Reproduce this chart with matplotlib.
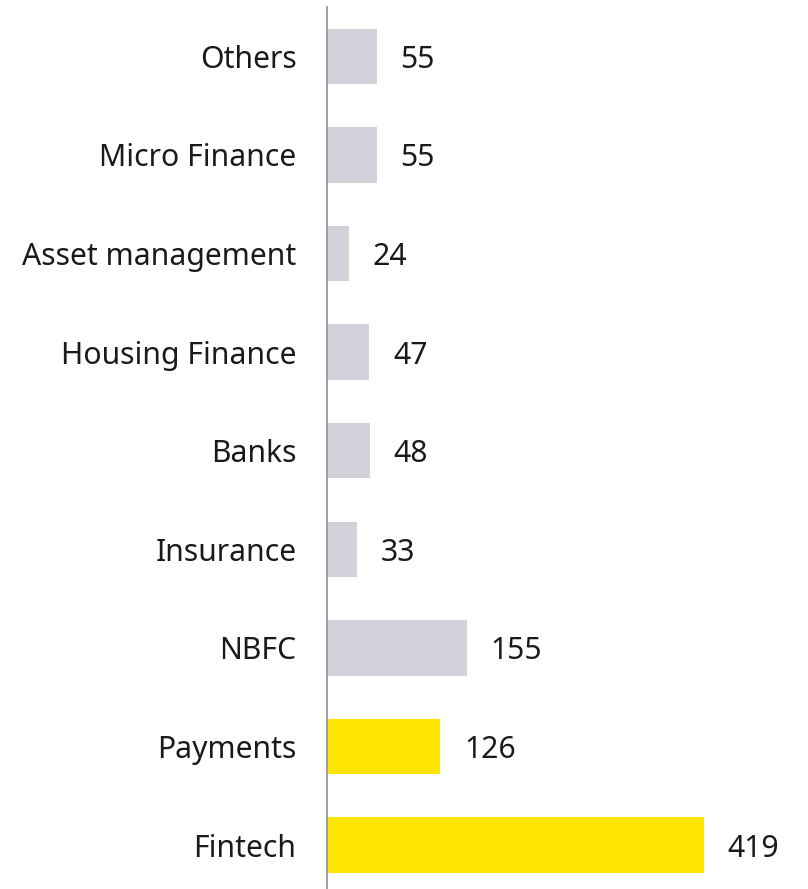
"""
horizontal bar chart of deal counts by segment, fintech and payments highlighted.
"""
import matplotlib.pyplot as plt

plt.rcParams['font.family'] = ['Noto Sans', 'DejaVu Sans']

# categories from bottom to top
segments = ["Fintech", "Payments", "NBFC", "Insurance", "Banks",
            "Housing Finance", "Asset management", "Micro Finance", "Others"]
counts = [419, 126, 155, 33, 48, 47, 24, 55, 55]
highlight = ["Fintech", "Payments"]

grey = "#D2D2DA"
yellow = "#FFE600"


def main():
    fig = plt.figure(figsize=(8.08, 8.89), dpi=100)
    # axes placed so the zero line sits at x=327px, rows ~98.6px apart
    ax = fig.add_axes([327 / 808, -5.4 / 889, 481 / 808, 887.4 / 889])

    colors = [yellow if s in highlight else grey for s in segments]
    pos = range(len(segments))
    ax.barh(pos, counts, height=0.56, color=colors, align='center')

    for y, v in zip(pos, counts):
        ax.annotate(str(v), (v, y), xytext=(17, 0), textcoords='offset points',
                    va='center_baseline', ha='left', fontsize=21.7, color='#1a1a1a')

    ax.set_yticks(list(pos))
    ax.set_yticklabels(segments, fontsize=21.7, color='#1a1a1a', va='center_baseline')
    ax.tick_params(axis='y', length=0, pad=22)
    ax.set_xticks([])
    ax.set_xlim(0, 481 / 0.9)
    ax.set_ylim(-0.5, len(segments) - 0.5)

    for side in ['top', 'right', 'bottom']:
        ax.spines[side].set_visible(False)
    ax.spines['left'].set_color('#8C8CA8')
    ax.spines['left'].set_linewidth(1.2)

    fig.savefig("out.png", dpi=100)


if __name__ == '__main__':
    main()
